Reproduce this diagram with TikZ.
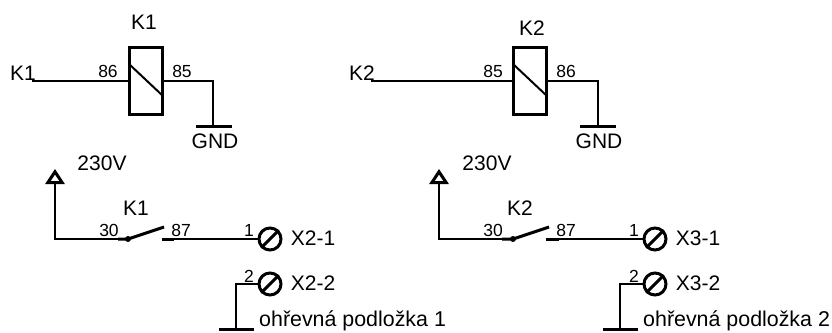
\documentclass[tikz,border=0pt]{standalone}
\usepackage{fontspec}
\setmainfont{Liberation Sans}
\usetikzlibrary{arrows.meta}

\tikzset{
  wire/.style={line width=2pt},
  bar/.style={line width=3pt},
  relaybox/.style={draw,line width=3pt,minimum width=33pt,minimum height=67pt,inner sep=0pt},
  terminal/.style={draw,circle,line width=3pt,minimum size=22pt,inner sep=0pt},
  pinlabel/.style={font=\fontsize{17.5}{17.5}\selectfont,inner sep=0pt},
  biglabel/.style={font=\fontsize{21}{21}\selectfont,inner sep=0pt},
  heatlabel/.style={font=\fontsize{21.4}{21.4}\selectfont,inner sep=0pt,anchor=west},
  uptip/.style={-{Triangle[open,length=15pt,width=19pt,line width=3pt]}}
}

\begin{document}
\begin{tikzpicture}[x=1pt,y=-1pt]
\useasboundingbox (0,0) rectangle (832,332);

% first relay
\node[relaybox] (coilA) at (146,80.5) {};
\coordinate (inA) at (32,80.5);
\coordinate (cornerA) at (213,80.5);
\coordinate (gndA) at (213,126);
\coordinate (gndAl) at (196,126);
\coordinate (gndAr) at (232,126);
\draw[wire] (inA) -- (coilA.west);
\draw[wire] (coilA.east) -- (cornerA) -- (gndA);
\draw[bar] (gndAl) -- (gndAr);
\draw[wire] (129,64) -- (163,96);
\node[biglabel] (nameA) at (144,22) {K1};
\node[biglabel] (inlabelA) at (23,73) {K1};
\node[pinlabel] (pinAa) at (108,71) {86};
\node[pinlabel] (pinAb) at (182,71) {85};
\node[biglabel] (gndlabelA) at (215,141) {GND};

% second relay
\node[relaybox] (coilB) at (530,80.5) {};
\coordinate (inB) at (371,80.5);
\coordinate (cornerB) at (597.5,80.5);
\coordinate (gndB) at (597.5,126);
\coordinate (gndBl) at (580,126);
\coordinate (gndBr) at (616,126);
\draw[wire] (inB) -- (coilB.west);
\draw[wire] (coilB.east) -- (cornerB) -- (gndB);
\draw[bar] (gndBl) -- (gndBr);
\draw[wire] (513,64) -- (547,96);
\node[biglabel] (nameB) at (532,28) {K2};
\node[biglabel] (inlabelB) at (362,73) {K2};
\node[pinlabel] (pinBa) at (493,71) {85};
\node[pinlabel] (pinBb) at (566,71) {86};
\node[biglabel] (gndlabelB) at (599,141) {GND};

% first contact
\node[terminal] (xAa) at (270,239) {};
\node[terminal] (xAb) at (270,284) {};
\draw[bar] (xAa.south west) -- (xAa.north east);
\draw[bar] (xAb.south west) -- (xAb.north east);
\coordinate (swA) at (128,239);
\coordinate (swAend) at (164,227);
\coordinate (swAl) at (118,239);
\coordinate (conA) at (162,239);
\coordinate (conAr) at (174,239);
\coordinate (feedA) at (55,239);
\coordinate (supplyA) at (55,169);
\coordinate (earthA) at (236,284);
\coordinate (earthAb) at (236,329);
\coordinate (earthAl) at (219,329);
\coordinate (earthAr) at (254,329);
\draw[wire,uptip] (swAl) -- (feedA) -- (supplyA);
\draw[bar] (swAl) -- (swA) -- (swAend);
\fill (swA) circle (3pt);
\draw[bar] (conA) -- (conAr);
\draw[wire] (conAr) -- (xAa.west);
\draw[wire] (xAb.west) -- (earthA) -- (earthAb);
\draw[bar] (earthAl) -- (earthAr);
\node[biglabel] (supplylabelA) at (102,163) {230V};
\node[biglabel] (swlabelA) at (136,208) {K1};
\node[pinlabel] (pinAc) at (109,230) {30};
\node[pinlabel] (pinAd) at (181,230) {87};
\node[pinlabel] (pinAe) at (249,230) {1};
\node[pinlabel] (pinAf) at (249,276) {2};
\node[biglabel] (xlabelAa) at (313,238) {X2-1};
\node[biglabel] (xlabelAb) at (313,283) {X2-2};
\node[heatlabel] (heatA) at (259,321) {ohřevná podložka 1};

% second contact
\node[terminal] (xBa) at (655,239) {};
\node[terminal] (xBb) at (655,284) {};
\draw[bar] (xBa.south west) -- (xBa.north east);
\draw[bar] (xBb.south west) -- (xBb.north east);
\coordinate (swB) at (513,239);
\coordinate (swBend) at (549,227);
\coordinate (swBl) at (502,239);
\coordinate (conB) at (546,239);
\coordinate (conBr) at (559,239);
\coordinate (feedB) at (439,239);
\coordinate (supplyB) at (439,169);
\coordinate (earthB) at (620,284);
\coordinate (earthBb) at (620,329);
\coordinate (earthBl) at (603,329);
\coordinate (earthBr) at (638,329);
\draw[wire,uptip] (swBl) -- (feedB) -- (supplyB);
\draw[bar] (swBl) -- (swB) -- (swBend);
\fill (swB) circle (3pt);
\draw[bar] (conB) -- (conBr);
\draw[wire] (conBr) -- (xBa.west);
\draw[wire] (xBb.west) -- (earthB) -- (earthBb);
\draw[bar] (earthBl) -- (earthBr);
\node[biglabel] (supplylabelB) at (487,163) {230V};
\node[biglabel] (swlabelB) at (520,208) {K2};
\node[pinlabel] (pinBc) at (493,230) {30};
\node[pinlabel] (pinBd) at (566,230) {87};
\node[pinlabel] (pinBe) at (634,230) {1};
\node[pinlabel] (pinBf) at (634,276) {2};
\node[biglabel] (xlabelBa) at (698,238) {X3-1};
\node[biglabel] (xlabelBb) at (698,283) {X3-2};
\node[heatlabel] (heatB) at (643,321) {ohřevná podložka 2};
\end{tikzpicture}
\end{document}
